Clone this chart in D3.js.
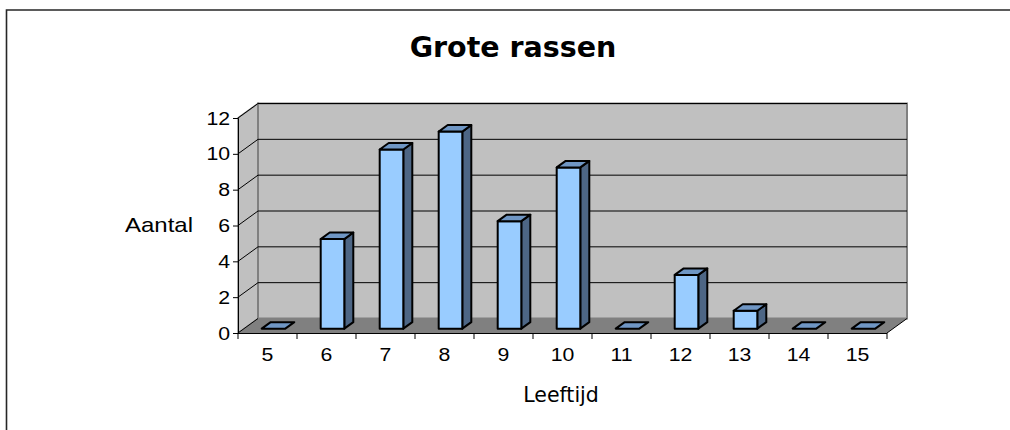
<!DOCTYPE html>
<html>
<head>
<meta charset="utf-8">
<script src="https://cdn.jsdelivr.net/npm/d3@7"></script>
<style>
  body { margin: 0; background: #fff; }
  svg { display: block; }
</style>
</head>
<body>
<div id="chart"></div>
<script>
// data
var categories = ["5", "6", "7", "8", "9", "10", "11", "12", "13", "14", "15"];
var values = [0, 5, 10, 11, 6, 9, 0, 3, 1, 0, 0];
var yTicks = [0, 2, 4, 6, 8, 10, 12];
var chartTitle = "Grote rassen";
var yTitle = "Aantal";
var xTitle = "Leeftijd";

var width = 1010, height = 430;
var i1 = 238, i2 = 887, j1 = 118, j2 = 333;
// depth of the 3d box (offset of the back wall)
var depthX = 20, depthY = -14.5;
var numFont = "'Liberation Sans', Arial, sans-serif";

var svg = d3.select("#chart").append("svg")
    .attr("width", width)
    .attr("height", height);

var x = d3.scaleBand().domain(categories).range([i1, i2]).paddingInner(0).paddingOuter(0);
var y = d3.scaleLinear().domain([0, 12]).range([j2, j1]);

// project a point at depth z (0 = front, 1 = back)
let p = (px, py, z) => [px + z * depthX, py + z * depthY];
let poly = pts => "M" + pts.map(d => d.join(",")).join("L") + "Z";

// outer border (top and left only)
svg.append("path")
    .attr("d", "M6.5," + height + "L6.5,10L" + width + ",10")
    .attr("fill", "none")
    .attr("stroke", "#262626")
    .attr("stroke-width", 1.6);

// left wall
svg.append("path")
    .attr("d", poly([p(i1, y(0), 0), p(i1, y(0), 1), p(i1, y(12), 1), p(i1, y(12), 0)]))
    .attr("fill", "#c0c0c0")
    .attr("stroke", "#8c8c8c")
    .attr("stroke-width", 1.5);

// back wall
var bw0 = p(i1, y(12), 1), bw1 = p(i2, y(0), 1);
svg.append("rect")
    .attr("x", bw0[0]).attr("y", bw0[1])
    .attr("width", bw1[0] - bw0[0]).attr("height", bw1[1] - bw0[1])
    .attr("fill", "#c0c0c0")
    .attr("stroke", "#808080")
    .attr("stroke-width", 2);

// floor
svg.append("path")
    .attr("d", poly([p(i1, y(0), 0), p(i2, y(0), 0), p(i2, y(0), 1), p(i1, y(0), 1)]))
    .attr("fill", "#808080");
svg.append("path")
    .attr("d", "M" + p(i2, y(0), 0) + "L" + p(i2, y(0), 1))
    .attr("stroke", "#000")
    .attr("stroke-width", 1);

// gridlines
var grid = svg.append("g").attr("stroke", "#000").attr("stroke-width", 1).attr("fill", "none");
yTicks.filter(t => t > 0).forEach(function (t) {
    var a = p(i1, y(t), 0), b = p(i1, y(t), 1), c = p(i2, y(t), 1);
    grid.append("path").attr("d", "M" + a + "L" + b + "L" + c);
});
grid.append("path").attr("d", "M" + p(i1, y(0), 0) + "L" + p(i1, y(0), 1));

// bars
var z0 = 0.3, z1 = 0.75, barW = x.bandwidth() * 0.4;
var bars = svg.append("g").attr("stroke", "#000").attr("stroke-width", 2).attr("stroke-linejoin", "round");
categories.forEach(function (c, k) {
    var v = values[k];
    var bx0 = x(c) + (x.bandwidth() - barW) / 2;
    var bx1 = bx0 + barW;
    var fl = p(bx0, y(0), z0), fr = p(bx1, y(0), z0);
    var tl = p(bx0, y(v), z0), tr = p(bx1, y(v), z0);
    var btl = p(bx0, y(v), z1), btr = p(bx1, y(v), z1), bbr = p(bx1, y(0), z1);
    if (v > 0) {
        bars.append("path").attr("d", poly([fr, bbr, btr, tr])).attr("fill", "#4d6685");
        bars.append("path").attr("d", poly([fl, fr, tr, tl])).attr("fill", "#99ccff");
    }
    bars.append("path").attr("d", poly([tl, tr, btr, btl])).attr("fill", "#6f96c4");
});

// y axis
var axisVertical = d3.axisLeft(y).tickValues(yTicks).tickSize(5).tickPadding(2);
var gy = svg.append("g")
    .attr("transform", "translate(" + i1 + ",0)")
    .call(axisVertical);
gy.selectAll("text")
    .attr("font-family", numFont)
    .attr("font-size", 19)
    .attr("fill", "#000")
    .attr("transform", "scale(1.12,1)");
gy.selectAll("line, path").attr("stroke", "#000");

// x axis
var axisHorizontal = d3.axisBottom(x).tickSize(0).tickPadding(15);
var gx = svg.append("g")
    .attr("transform", "translate(0," + j2 + ")")
    .call(axisHorizontal);
gx.select(".domain").attr("d", "M" + (i1 - 5) + ",0.5H" + i2).attr("stroke", "#000");
gx.selectAll("text")
    .attr("font-family", numFont)
    .attr("font-size", 19)
    .attr("fill", "#000")
    .attr("transform", "scale(1.12,1)");
var bounds = categories.map(c => x(c)).concat([i2]);
gx.selectAll(".bound").data(bounds).enter().append("line")
    .attr("class", "bound")
    .attr("x1", d => d).attr("x2", d => d)
    .attr("y1", 0).attr("y2", 6)
    .attr("stroke", "#000");

// titles
svg.append("text")
    .attr("x", 513).attr("y", 57)
    .attr("text-anchor", "middle")
    .attr("font-family", "'DejaVu Sans', Verdana, sans-serif")
    .attr("font-weight", "bold")
    .attr("font-size", 28.5)
    .text(chartTitle);

svg.append("text")
    .attr("x", 159).attr("y", 232)
    .attr("text-anchor", "middle")
    .attr("font-family", numFont)
    .attr("font-size", 21)
    .attr("textLength", 68)
    .attr("lengthAdjust", "spacingAndGlyphs")
    .text(yTitle);

svg.append("text")
    .attr("x", 561).attr("y", 402)
    .attr("text-anchor", "middle")
    .attr("font-family", "'DejaVu Sans', Verdana, sans-serif")
    .attr("font-size", 20.5)
    .text(xTitle);
</script>
</body>
</html>
